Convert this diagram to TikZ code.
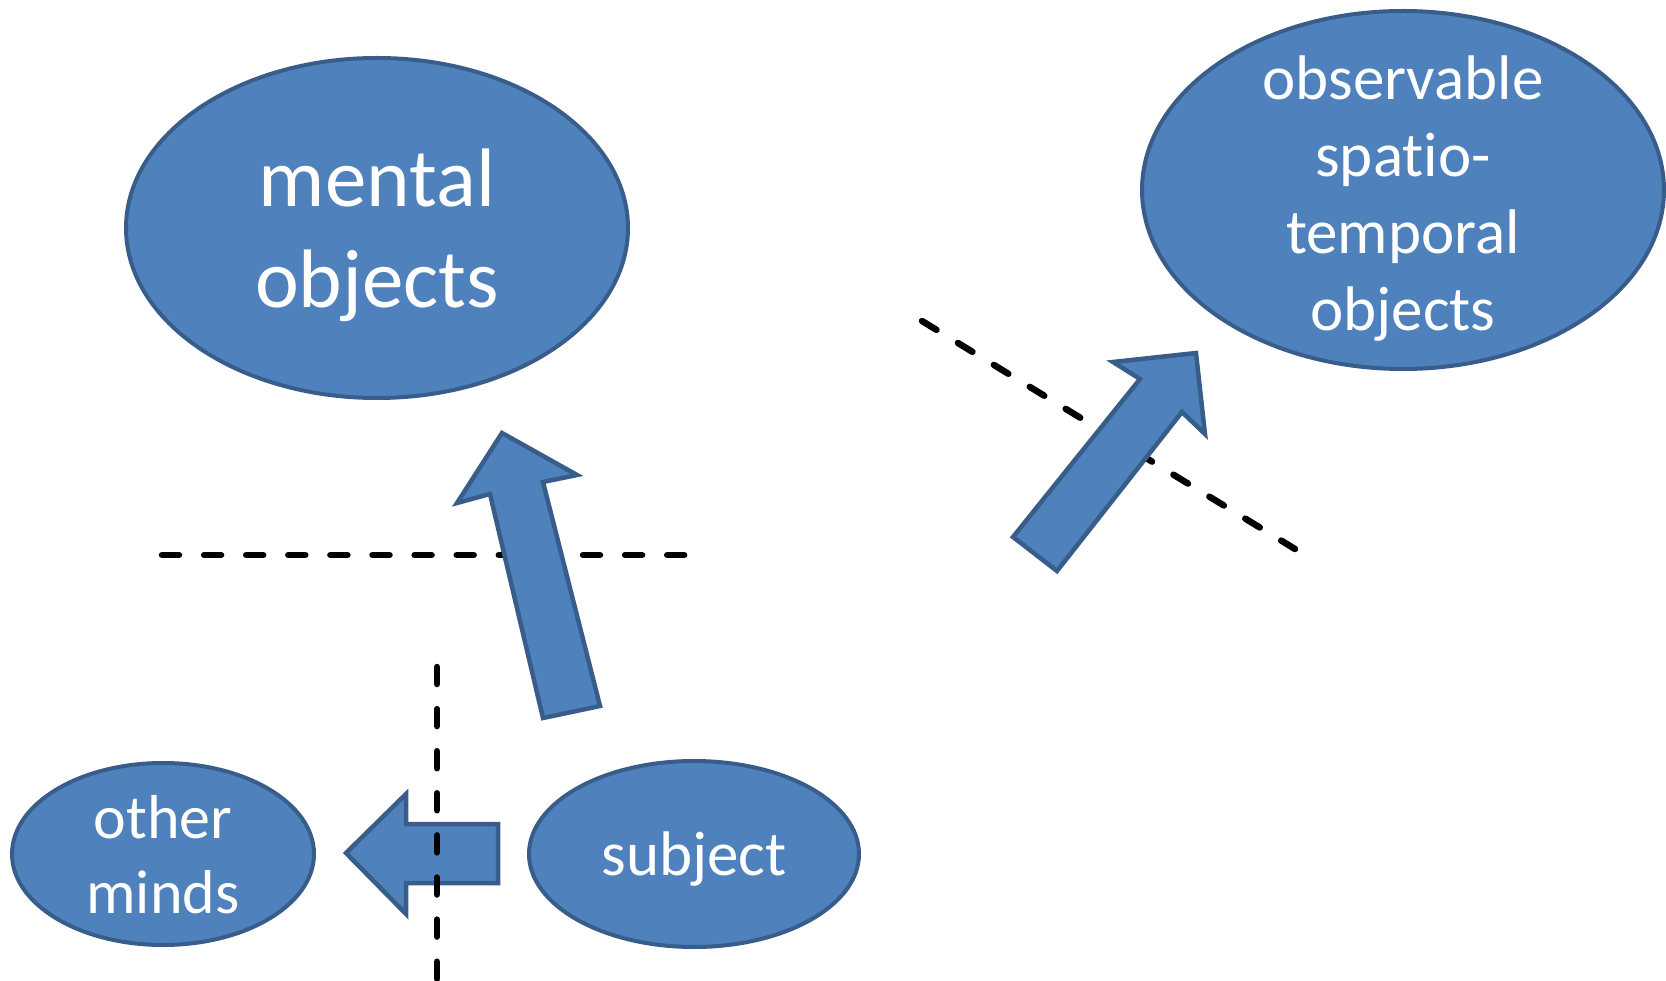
\documentclass[tikz,border=0pt]{standalone}
\usepackage{fontspec}
\setmainfont{Carlito}[Ligatures={NoCommon,NoRare,NoContextual}]
\usetikzlibrary{shapes.geometric}
\definecolor{fillblue}{HTML}{4F81BD}
\definecolor{lineblue}{HTML}{385D8A}
\tikzset{
  blob/.style={ellipse, draw=lineblue, line width=4pt, fill=fillblue, inner sep=0pt},
  lbl/.style={text=white, align=center, inner sep=0pt},
  blockarrow/.style={draw=lineblue, line width=4.5pt, fill=fillblue, line join=miter},
  dashline/.style={line width=6.5pt, line cap=round, dash pattern=on 17pt off 25.1pt, black}
}
\begin{document}
\begin{tikzpicture}[x=1pt,y=-1pt]
\useasboundingbox (0,0) rectangle (1666,981);
% ellipses
\node[blob, minimum width=502pt, minimum height=340pt] (mental) at (377,228) {};
\node[blob, minimum width=522pt, minimum height=358pt] (obs) at (1403,190) {};
\node[blob, minimum width=302pt, minimum height=182pt] (other) at (163,854) {};
\node[blob, minimum width=330pt, minimum height=186pt] (subj) at (694,854) {};
% labels
\node[lbl, font=\fontsize{83}{101}\selectfont] (mentalT) at ([yshift=-7pt]mental.center) {mental\\objects};
\node[lbl, font=\fontsize{63}{77}\selectfont] (obsT) at ([yshift=-9pt]obs.center) {observable\\spatio-\\temporal\\objects};
\node[lbl, font=\fontsize{62}{75}\selectfont] (otherT) at ([yshift=-1pt]other.center) {other\\minds};
\node[lbl, font=\fontsize{63}{77}\selectfont] (subjT) at ([yshift=-5pt]subj.center) {subject};
% dashed lines behind arrows
\coordinate (h1) at (162,555);
\coordinate (h2) at (690,555);
\coordinate (d1) at (922,321);
\coordinate (d2) at (1295,549);
\draw[dashline] (h1) -- (h2);
\draw[dashline] (d1) -- (d2);
% block arrows
\draw[blockarrow] (543,718) -- (490,494) -- (457,503) -- (502,433) -- (577,475) -- (543,482) -- (600,706) -- cycle;
\draw[blockarrow] (498,824) -- (406,824) -- (406,794) -- (346,853) -- (406,914) -- (406,883) -- (498,883) -- cycle;
\draw[blockarrow] (1013,537) -- (1140,379) -- (1113,362) -- (1196,353) -- (1205,434) -- (1182,412) -- (1057,571) -- cycle;
% vertical dashed line on top
\coordinate (v1) at (437,667);
\coordinate (v2) at (437,990);
\draw[dashline] (v1) -- (v2);
\end{tikzpicture}
\end{document}
